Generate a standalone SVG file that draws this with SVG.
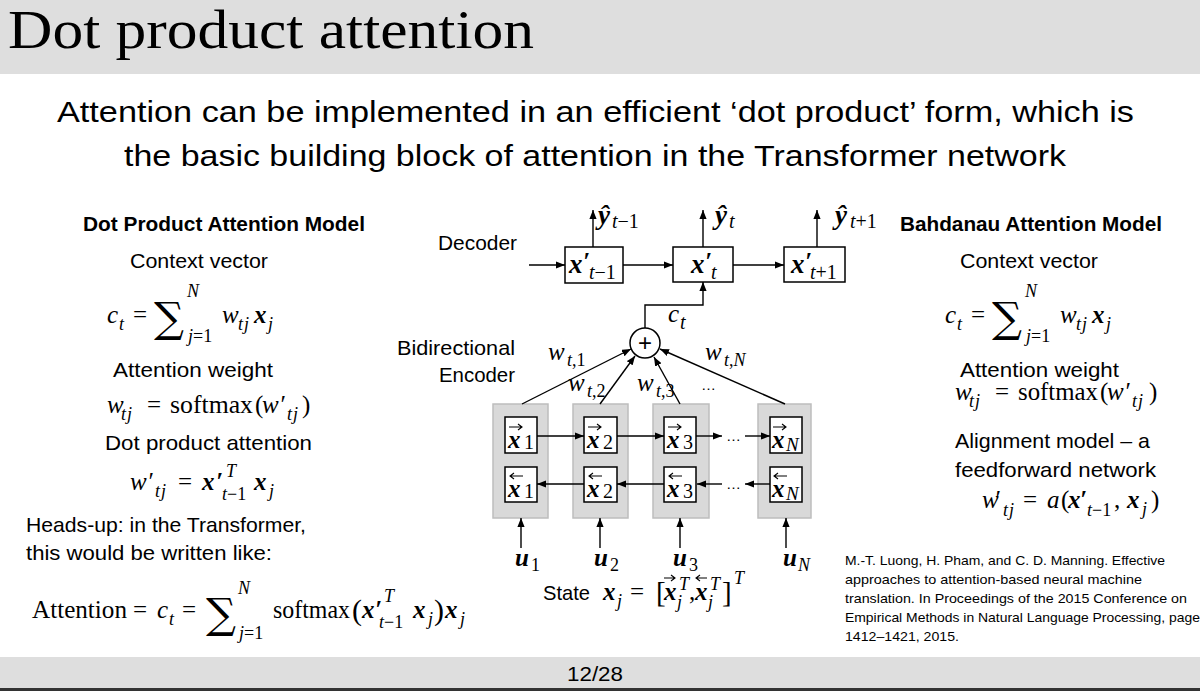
<svg xmlns="http://www.w3.org/2000/svg" width="1200" height="691" viewBox="0 0 1200 691">
<style>
.sans{font-family:"Liberation Sans",Arial,sans-serif;fill:#000}
.lbl{font-size:21px}
.m{font-family:"Liberation Serif","DejaVu Serif",serif;font-style:italic;font-size:25px;fill:#000}
.r{font-style:normal}
.b{font-weight:bold}
.s{font-size:18px}
.s2{font-size:20px}
.sig{font-family:"DejaVu Serif","Liberation Serif",serif;font-size:42px;fill:#000}
.arr{fill:none;stroke:#000;stroke-width:1.4;marker-end:url(#ah)}
.col{fill:#d9d9d9;stroke:#bdbdbd;stroke-width:1.5}
.box{fill:#fff;stroke:#000;stroke-width:1.5}
.acc{fill:none;stroke:#000;stroke-width:1.1}
</style>
<defs>
<marker id="ah" viewBox="0 0 10 8" refX="10" refY="4" markerWidth="9" markerHeight="7.2" markerUnits="userSpaceOnUse" orient="auto">
<path d="M0,0 L10,4 L0,8 z" fill="#000"/>
</marker>
</defs>
<rect width="1200" height="691" fill="#fff"/>
<!-- header -->
<rect x="0" y="0" width="1200" height="74" fill="#dedede"/>
<text x="8" y="48" font-family="Liberation Serif,serif" font-size="54" textLength="526" lengthAdjust="spacingAndGlyphs">Dot product attention</text>
<text class="sans" x="57" y="122" font-size="29" textLength="1077" lengthAdjust="spacingAndGlyphs">Attention can be implemented in an efficient ‘dot product’ form, which is</text>
<text class="sans" x="124" y="166" font-size="29" textLength="942" lengthAdjust="spacingAndGlyphs">the basic building block of attention in the Transformer network</text>
<!-- footer -->
<rect x="0" y="657" width="1200" height="31" fill="#dedede"/>
<rect x="0" y="688" width="1200" height="3" fill="#333"/>
<text class="sans" x="567" y="681" font-size="20" textLength="56" lengthAdjust="spacingAndGlyphs">12/28</text>

<!-- left column -->
<g id="left-text">
<text class="sans b" x="83" y="231" font-size="20" textLength="282" lengthAdjust="spacingAndGlyphs">Dot Product Attention Model</text>
<text class="sans lbl" x="130" y="268" textLength="138" lengthAdjust="spacingAndGlyphs">Context vector</text>
<text class="sans lbl" x="113" y="377" textLength="160" lengthAdjust="spacingAndGlyphs">Attention weight</text>
<text class="sans lbl" x="105" y="450" textLength="207" lengthAdjust="spacingAndGlyphs">Dot product attention</text>
<text class="sans lbl" x="26" y="532" textLength="280" lengthAdjust="spacingAndGlyphs">Heads-up: in the Transformer,</text>
<text class="sans lbl" x="26" y="560" textLength="246" lengthAdjust="spacingAndGlyphs">this would be written like:</text>
</g>
<g id="ctx-left">
<text class="m" y="323"><tspan x="107">c</tspan><tspan class="s" x="119" y="330">t</tspan><tspan class="r" x="133" y="323">=</tspan></text>
<text class="sig" x="154" y="332">∑</text>
<text class="m s"><tspan x="187" y="297">N</tspan><tspan x="188" y="342">j</tspan><tspan class="r">=1</tspan></text>
<text class="m" y="323"><tspan x="222">w</tspan><tspan class="s" x="238" y="330" letter-spacing="1">tj</tspan><tspan class="b" x="254" y="323">x</tspan><tspan class="s" x="268" y="330">j</tspan></text>
</g>
<g id="aw-left">
<text class="m" y="413"><tspan x="107">w</tspan><tspan class="s" x="121" y="420" letter-spacing="1">tj</tspan><tspan class="r" x="147" y="413">=</tspan><tspan class="r" x="170" textLength="83" lengthAdjust="spacingAndGlyphs">softmax</tspan><tspan class="r" x="255">(</tspan><tspan x="262">w</tspan><tspan x="279">′</tspan><tspan class="s" x="287" y="420" letter-spacing="1">tj</tspan><tspan class="r" x="302" y="413">)</tspan></text>
</g>
<g id="dp-left">
<text class="m" y="490"><tspan x="130">w</tspan><tspan x="147">′</tspan><tspan class="s" x="155" y="497" letter-spacing="1">tj</tspan><tspan class="r" x="178" y="490">=</tspan><tspan class="b" x="202">x</tspan><tspan class="b" x="216">′</tspan><tspan class="s" x="226" y="477">T</tspan><tspan class="s" x="222" y="500">t<tspan class="r">−1</tspan></tspan><tspan class="b" x="254" y="490">x</tspan><tspan class="s" x="269" y="497">j</tspan></text>
</g>
<g id="final-left">
<text class="m" y="618"><tspan class="r" x="32" textLength="95" lengthAdjust="spacingAndGlyphs">Attention</tspan><tspan class="r" x="133">=</tspan><tspan x="157">c</tspan><tspan class="s" x="169" y="625">t</tspan><tspan class="r" x="182" y="618">=</tspan></text>
<text class="sig" x="206" y="628">∑</text>
<text class="m s"><tspan x="238" y="594">N</tspan><tspan x="239" y="639">j</tspan><tspan class="r">=1</tspan></text>
<text class="m" y="618"><tspan class="r" x="273" textLength="77" lengthAdjust="spacingAndGlyphs">softmax</tspan><tspan class="r" x="352" font-size="30" y="620">(</tspan><tspan class="b" x="362" y="618">x</tspan><tspan class="b" x="375">′</tspan><tspan class="s" x="384" y="602">T</tspan><tspan class="s" x="379" y="628">t<tspan class="r">−1</tspan></tspan><tspan class="b" x="413" y="618">x</tspan><tspan class="s" x="428" y="625">j</tspan><tspan class="r" x="434" font-size="30" y="620">)</tspan><tspan class="b" x="445" y="618">x</tspan><tspan class="s" x="460" y="625">j</tspan></text>
</g>

<!-- right column -->
<g id="right-text">
<text class="sans b" x="900" y="231" font-size="20" textLength="262" lengthAdjust="spacingAndGlyphs">Bahdanau Attention Model</text>
<text class="sans lbl" x="960" y="268" textLength="138" lengthAdjust="spacingAndGlyphs">Context vector</text>
<text class="sans lbl" x="960" y="377" textLength="159" lengthAdjust="spacingAndGlyphs">Attention weight</text>
<text class="sans lbl" x="955" y="448" textLength="195" lengthAdjust="spacingAndGlyphs">Alignment model – a</text>
<text class="sans lbl" x="955" y="477" textLength="201" lengthAdjust="spacingAndGlyphs">feedforward network</text>
</g>
<g id="ctx-right" transform="translate(838,0)">
<text class="m" y="323"><tspan x="107">c</tspan><tspan class="s" x="119" y="330">t</tspan><tspan class="r" x="133" y="323">=</tspan></text>
<text class="sig" x="154" y="332">∑</text>
<text class="m s"><tspan x="187" y="297">N</tspan><tspan x="188" y="342">j</tspan><tspan class="r">=1</tspan></text>
<text class="m" y="323"><tspan x="222">w</tspan><tspan class="s" x="238" y="330" letter-spacing="1">tj</tspan><tspan class="b" x="254" y="323">x</tspan><tspan class="s" x="268" y="330">j</tspan></text>
</g>
<g id="aw-right" transform="translate(848,-13)">
<text class="m" y="413"><tspan x="107">w</tspan><tspan class="s" x="121" y="420" letter-spacing="1">tj</tspan><tspan class="r" x="147" y="413">=</tspan><tspan class="r" x="170" textLength="80" lengthAdjust="spacingAndGlyphs">softmax</tspan><tspan class="r" x="252">(</tspan><tspan x="259">w</tspan><tspan x="276">′</tspan><tspan class="s" x="284" y="420" letter-spacing="1">tj</tspan><tspan class="r" x="301" y="413">)</tspan></text>
</g>
<g id="align-right">
<text class="m" y="508"><tspan x="982">w</tspan><tspan x="994">′</tspan><tspan class="s" x="1003" y="516" letter-spacing="1">tj</tspan><tspan class="r" x="1023" y="508">=</tspan><tspan x="1047">a</tspan><tspan class="r" x="1061">(</tspan><tspan class="b" x="1068">x</tspan><tspan class="b" x="1080">′</tspan><tspan class="s" x="1087" y="516">t<tspan class="r">−1</tspan></tspan><tspan class="r" x="1114" y="508">,</tspan><tspan class="b" x="1127">x</tspan><tspan class="s" x="1142" y="515">j</tspan><tspan class="r" x="1151" y="508">)</tspan></text>
</g>
<g id="reference">
<text class="sans" font-size="13.5"><tspan x="845" y="565" textLength="320" lengthAdjust="spacingAndGlyphs">M.-T. Luong, H. Pham, and C. D. Manning. Effective</tspan><tspan x="845" y="584" textLength="297" lengthAdjust="spacingAndGlyphs">approaches to attention-based neural machine</tspan><tspan x="845" y="603" textLength="342" lengthAdjust="spacingAndGlyphs">translation. In Proceedings of the 2015 Conference on</tspan><tspan x="845" y="622" textLength="355" lengthAdjust="spacingAndGlyphs">Empirical Methods in Natural Language Processing, page</tspan><tspan x="845" y="641" textLength="114" lengthAdjust="spacingAndGlyphs">1412–1421, 2015.</tspan></text>
</g>

<!-- diagram labels -->
<g id="diagram-labels">
<text class="sans lbl" x="438" y="250" textLength="79" lengthAdjust="spacingAndGlyphs">Decoder</text>
<text class="sans lbl" x="397" y="355" textLength="118" lengthAdjust="spacingAndGlyphs">Bidirectional</text>
<text class="sans lbl" x="439" y="382" textLength="76" lengthAdjust="spacingAndGlyphs">Encoder</text>
</g>

<!-- decoder nodes -->
<g id="dec1">
<rect class="box" x="565" y="247" width="58" height="36"/>
<text class="m" y="273"><tspan class="b" x="569" font-size="27">x</tspan><tspan class="b" x="583" y="270">′</tspan><tspan class="s2" x="589" y="279">t<tspan class="r">−1</tspan></tspan></text>
</g>
<g id="dec2">
<rect class="box" x="673" y="247" width="60" height="35"/>
<text class="m" y="273"><tspan class="b" x="691" font-size="27">x</tspan><tspan class="b" x="705" y="270">′</tspan><tspan class="s2" x="711" y="279">t</tspan></text>
</g>
<g id="dec3">
<rect class="box" x="784" y="247" width="61" height="35"/>
<text class="m" y="273"><tspan class="b" x="791" font-size="27">x</tspan><tspan class="b" x="805" y="270">′</tspan><tspan class="s2" x="810" y="279">t<tspan class="r">+1</tspan></tspan></text>
</g>
<g id="outputs">
<text class="m" y="224"><tspan class="b" x="598" font-size="27">ŷ</tspan><tspan class="s2" x="612" y="228">t<tspan class="r">−1</tspan></tspan></text>
<text class="m" y="224"><tspan class="b" x="715" font-size="27">ŷ</tspan><tspan class="s2" x="729" y="228">t</tspan></text>
<text class="m" y="224"><tspan class="b" x="835" font-size="27">ŷ</tspan><tspan class="s2" x="850" y="228">t<tspan class="r">+1</tspan></tspan></text>
</g>
<g id="sum">
<circle cx="645" cy="343" r="15" fill="#fff" stroke="#000" stroke-width="1.5"/>
<text x="645" y="351" text-anchor="middle" font-family="Liberation Sans,sans-serif" font-size="24">+</text>
</g>
<g id="weights">
<text class="m" y="322"><tspan x="668">c</tspan><tspan class="s2" x="680" y="329">t</tspan></text>
<text class="m" y="360"><tspan x="548">w</tspan><tspan class="s" x="567" y="366">t<tspan class="r">,1</tspan></tspan></text>
<text class="m" y="391"><tspan x="568">w</tspan><tspan class="s" x="587" y="397">t<tspan class="r">,2</tspan></tspan></text>
<text class="m" y="391"><tspan x="637">w</tspan><tspan class="s" x="656" y="397">t<tspan class="r">,3</tspan></tspan></text>
<text class="m" y="360"><tspan x="705">w</tspan><tspan class="s" x="724" y="366">t<tspan class="r">,</tspan>N</tspan></text>
<text class="sans" x="701" y="390" font-size="15">…</text>
</g>

<!-- encoder nodes -->
<g id="enc1">
<rect class="col" x="493" y="404" width="55" height="114"/>
<rect class="box" x="505" y="417" width="32" height="36"/>
<rect class="box" x="505" y="467" width="32" height="35"/>
<text class="m" y="448"><tspan class="b" x="508">x</tspan><tspan class="r" x="524" font-size="20" y="449">1</tspan></text>
<text class="m" y="497"><tspan class="b" x="508">x</tspan><tspan class="r" x="524" font-size="20" y="498">1</tspan></text>
<path class="acc" d="M509,427 h13 m-4,-3 l4,3 l-4,3"/>
<path class="acc" d="M523,476 h-13 m4,-3 l-4,3 l4,3"/>
</g>
<g id="enc2">
<rect class="col" x="573" y="404" width="55" height="114"/>
<rect class="box" x="584" y="417" width="33" height="36"/>
<rect class="box" x="584" y="467" width="33" height="35"/>
<text class="m" y="448"><tspan class="b" x="587">x</tspan><tspan class="r" x="603" font-size="20" y="449">2</tspan></text>
<text class="m" y="497"><tspan class="b" x="587">x</tspan><tspan class="r" x="603" font-size="20" y="498">2</tspan></text>
<path class="acc" d="M588,427 h13 m-4,-3 l4,3 l-4,3"/>
<path class="acc" d="M602,476 h-13 m4,-3 l-4,3 l4,3"/>
</g>
<g id="enc3">
<rect class="col" x="653" y="404" width="56" height="114"/>
<rect class="box" x="664" y="417" width="32" height="36"/>
<rect class="box" x="664" y="467" width="32" height="35"/>
<text class="m" y="448"><tspan class="b" x="667">x</tspan><tspan class="r" x="683" font-size="20" y="449">3</tspan></text>
<text class="m" y="497"><tspan class="b" x="667">x</tspan><tspan class="r" x="683" font-size="20" y="498">3</tspan></text>
<path class="acc" d="M668,427 h13 m-4,-3 l4,3 l-4,3"/>
<path class="acc" d="M682,476 h-13 m4,-3 l-4,3 l4,3"/>
</g>
<g id="encN">
<rect class="col" x="758" y="404" width="53" height="114"/>
<rect class="box" x="770" y="417" width="32" height="36"/>
<rect class="box" x="770" y="467" width="32" height="35"/>
<text class="m" y="448"><tspan class="b" x="772">x</tspan><tspan x="786" font-size="19" y="451">N</tspan></text>
<text class="m" y="497"><tspan class="b" x="772">x</tspan><tspan x="786" font-size="19" y="500">N</tspan></text>
<path class="acc" d="M773,427 h13 m-4,-3 l4,3 l-4,3"/>
<path class="acc" d="M787,476 h-13 m4,-3 l-4,3 l4,3"/>
</g>
<g id="dots">
<text class="sans" x="726" y="441" font-size="15">…</text>
<text class="sans" x="726" y="489" font-size="15">…</text>
</g>
<g id="inputs">
<text class="m" y="566"><tspan class="b" x="515">u</tspan><tspan class="r" x="531" y="571" font-size="18">1</tspan></text>
<text class="m" y="566"><tspan class="b" x="594">u</tspan><tspan class="r" x="610" y="571" font-size="18">2</tspan></text>
<text class="m" y="566"><tspan class="b" x="673">u</tspan><tspan class="r" x="689" y="571" font-size="18">3</tspan></text>
<text class="m" y="566"><tspan class="b" x="783">u</tspan><tspan x="798" y="571" font-size="18">N</tspan></text>
</g>
<g id="state">
<text class="sans lbl" x="543" y="600" textLength="47" lengthAdjust="spacingAndGlyphs">State</text>
<text class="m" y="600"><tspan class="b" x="603">x</tspan><tspan class="s" x="617" y="607">j</tspan><tspan class="r" x="630" y="600">=</tspan><tspan class="r" x="656" y="602" font-size="29">[</tspan><tspan class="b" x="664" y="600">x</tspan><tspan class="s" x="679" y="590">T</tspan><tspan class="s" x="677" y="608">j</tspan><tspan class="r" x="689" y="600">,</tspan><tspan class="b" x="695">x</tspan><tspan class="s" x="710" y="590">T</tspan><tspan class="s" x="708" y="608">j</tspan><tspan class="r" x="722" y="602" font-size="29">]</tspan><tspan class="s" x="734" y="584">T</tspan></text>
<path class="acc" d="M664,578 h11 m-4,-3 l4,3 l-4,3"/>
<path class="acc" d="M707,578 h-11 m4,-3 l-4,3 l4,3"/>
</g>

<!-- connectors (drawn last so arrowheads stay visible) -->
<g id="connectors">
<path class="arr" d="M529,265 H565"/>
<path class="arr" d="M623,265 H673"/>
<path class="arr" d="M733,265 H784"/>
<path class="arr" d="M593,247 V210"/>
<path class="arr" d="M703,247 V210"/>
<path class="arr" d="M817,247 V210"/>
<path class="arr" d="M645,328 V305 H703 V282"/>
<path class="arr" d="M522,404 L631,349"/>
<path class="arr" d="M600,404 L635,356"/>
<path class="arr" d="M680,404 L654,357"/>
<path class="arr" d="M785,404 L660,349"/>
<path class="arr" d="M537,436 H584"/>
<path class="arr" d="M617,436 H664"/>
<path class="arr" d="M696,436 H722"/>
<path class="arr" d="M745,436 H770"/>
<path class="arr" d="M584,484 H537"/>
<path class="arr" d="M664,484 H617"/>
<path class="arr" d="M722,484 H697"/>
<path class="arr" d="M770,484 H745"/>
<path class="arr" d="M521,548 V518"/>
<path class="arr" d="M600,548 V518"/>
<path class="arr" d="M680,548 V518"/>
<path class="arr" d="M786,548 V518"/>
</g>
</svg>
